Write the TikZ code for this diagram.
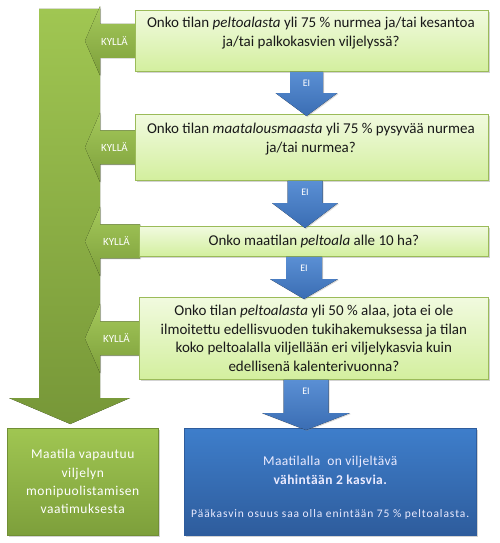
\documentclass[tikz,border=0pt]{standalone}
\usepackage{fontspec}
\setmainfont{Carlito}
\usetikzlibrary{calc,shadows}
\definecolor{boxtop}{HTML}{F1FADF}
\definecolor{boxbot}{HTML}{D3EF9E}
\definecolor{boxline}{HTML}{9BBB59}
\definecolor{gtop}{HTML}{A0C652}
\definecolor{gbot}{HTML}{7D9F3B}
\definecolor{btop}{HTML}{5A8FD4}
\definecolor{bbot}{HTML}{3A6DB3}
\definecolor{bboxtop}{HTML}{3E7ECB}
\definecolor{bboxbot}{HTML}{2E5C9C}
\pgfdeclarelayer{bg}
\pgfsetlayers{bg,main}
\tikzset{
  qbox/.style={draw=boxline, line width=0.8pt, top color=boxtop, bottom color=boxbot,
    drop shadow={shadow xshift=1.5pt,shadow yshift=-1.5pt,opacity=0.35},
    inner sep=0pt, anchor=north west, align=center, text=black!90,
    font=\fontsize{15}{18.5}\selectfont},
  qtext/.style={align=center, text=black!90, inner sep=0pt, font=\fontsize{15}{19}\selectfont},
  gres/.style={draw=gbot!90!black, line width=0.5pt, top color=gtop, bottom color=gbot,
    drop shadow={shadow xshift=1.5pt,shadow yshift=-1.5pt,opacity=0.35},
    anchor=north west, minimum width=151pt, minimum height=107pt, inner sep=0pt,
    align=center, text=white, font=\fontsize{13.5}{18.3}\selectfont\addfontfeature{LetterSpace=4}},
  bres/.style={draw=bboxbot, line width=0.5pt, top color=bboxtop, bottom color=bboxbot,
    drop shadow={shadow xshift=1.5pt,shadow yshift=-1.5pt,opacity=0.35},
    anchor=north west, minimum width=292pt, minimum height=107pt, inner sep=0pt},
  btext/.style={text=white!92!blue, inner sep=0pt, anchor=base},
  bigarrow/.style={top color=gtop, bottom color=gbot!95!black},
  yesarr/.style={top color=gtop!95!white, bottom color=gbot,
    drop shadow={shadow xshift=1pt,shadow yshift=-1pt,opacity=0.25}},
  bluearr/.style={top color=btop, bottom color=bbot,
    drop shadow={shadow xshift=1pt,shadow yshift=-1pt,opacity=0.3}},
  yeslbl/.style={text=white, font=\fontsize{11}{12}\selectfont, inner sep=0pt},
  eilbl/.style={text=white, font=\fontsize{10}{11}\selectfont, inner sep=0pt}
}
% yes-arrow from a question box to the big arrow
\newcommand\YesArr[1]{%
  \coordinate (#1-w) at (#1.west);
  \coordinate (#1-b) at (100,0 |- #1.west);
  \coordinate (#1-tip) at (85,0 |- #1.west);
  \fill[yesarr] ($(#1-w)+(1,-17)$) -- ($(#1-b)+(0,-17)$) -- ($(#1-b)+(0,-34.5)$)
     -- (#1-tip) -- ($(#1-b)+(0,34.5)$) -- ($(#1-b)+(0,17)$) -- ($(#1-w)+(1,17)$) -- cycle;
  \node[yeslbl] (#1-yes) at ($(#1-b)!0.5!(#1-w)+(-3,0)$) {KYLLÄ};
}
% no-arrow: #1 from, #2 to, #3 x centre, #4 half shaft, #5 half head, #6 head length
\newcommand\DownArr[6]{%
  \coordinate (#1-top) at (#3,0 |- #1.south);
  \coordinate (#1-tip) at ($(#3,0 |- #2.north)+(0,2)$);
  \fill[bluearr] ($(#1-top)+(-#4,0)$) -- ($(#1-top)+(#4,0)$) -- ($(#1-tip)+(#4,-#6)$)
     -- ($(#1-tip)+(#5,-#6)$) -- (#1-tip) -- ($(#1-tip)+(-#5,-#6)$)
     -- ($(#1-tip)+(-#4,-#6)$) -- cycle;
  \node[eilbl] (#1-ei) at ($(#1-top)+(0,11.5)$) {EI};
}
\begin{document}
\begin{tikzpicture}[x=1pt,y=-1pt]
\useasboundingbox (0,0) rectangle (499,543);
% question boxes
\node[qbox, minimum width=353pt, minimum height=61pt] (q1) at (135,10) {};
\node[qtext, anchor=north] (q1t) at ($(q1.north)+(-1,7)$)
  {Onko tilan \textit{peltoalasta} yli 75 \% nurmea ja/tai kesantoa\\ ja/tai palkokasvien viljelyssä?};
\node[qbox, minimum width=353pt, minimum height=66pt] (q2) at (135,114) {};
\node[qtext, anchor=north] (q2t) at ($(q2.north)+(-1,9)$)
  {Onko tilan \textit{maatalousmaasta} yli 75 \% pysyvää nurmea\\ ja/tai nurmea?};
\node[qbox, minimum width=349pt, minimum height=30pt] (q3) at (139,226)
  {Onko maatilan \textit{peltoala} alle 10 ha?};
\node[qbox, minimum width=349pt, minimum height=82pt] (q4) at (139,297)
  {Onko tilan \textit{peltoalasta} yli 50 \% alaa, jota ei ole\\ ilmoitettu edellisvuoden tukihakemuksessa ja tilan\\ koko peltoalalla viljellään eri viljelykasvia kuin\\ edellisenä kalenterivuonna?};
% results
\node[gres] (r1) at (7,428) {Maatila vapautuu\\ viljelyn\\ monipuolistamisen\\ vaatimuksesta};
\node[bres] (r2) at (184,428) {};
\node[btext, font=\fontsize{13.5}{16}\selectfont\addfontfeature{LetterSpace=3}] (r2a)
  at ($(r2.north)+(0,37)$) {Maatilalla\ \ on viljeltävä};
\node[btext, font=\fontsize{13.5}{16}\selectfont\bfseries\addfontfeature{LetterSpace=3}] (r2b)
  at ($(r2.north)+(0,56)$) {vähintään 2 kasvia.};
\node[btext, font=\fontsize{11.5}{13}\selectfont\addfontfeature{LetterSpace=8}] (r2c)
  at ($(r2.north)+(0,89.5)$) {Pääkasvin osuus saa olla enintään 75 \% peltoalasta.};
% arrows behind the boxes
\begin{pgfonlayer}{bg}
  \fill[bigarrow] (39,9) -- (100,9) -- (100,398) -- (130,398)
     -- ($(r1.north)+(-12.5,-4)$) -- (9,398) -- (39,398) -- cycle;
  \YesArr{q1}
  \YesArr{q2}
  \YesArr{q3}
  \YesArr{q4}
\end{pgfonlayer}
% EI arrows
\DownArr{q1}{q2}{306.5}{16.5}{31}{23}
\DownArr{q2}{q3}{305}{17.5}{33}{25}
\DownArr{q3}{q4}{304}{18}{34}{20}
\DownArr{q4}{r2}{306}{22.5}{44}{17}
\end{tikzpicture}
\end{document}
